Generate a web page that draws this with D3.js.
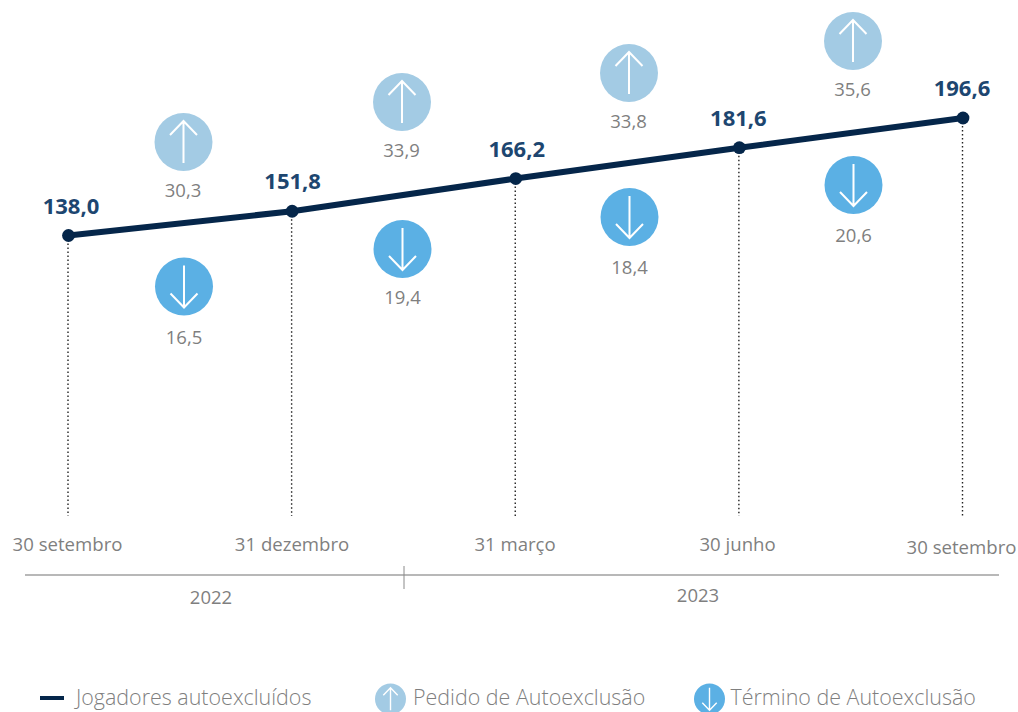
<!DOCTYPE html>
<html><head><meta charset="utf-8">
<script src="https://cdn.jsdelivr.net/npm/d3@7/dist/d3.min.js"></script>
<style>html,body{margin:0;background:#fff}svg{display:block}text{font-family:"Open Sans",sans-serif}</style>
</head><body><svg id="c" width="1018" height="712"></svg>
<script>
// Data
const dates = ["30 setembro","31 dezembro","31 março","30 junho","30 setembro "];
const totalLabels = ["138,0","151,8","166,2","181,6","196,6"];
const totalValues = [138.0,151.8,166.2,181.6,196.6];
// height of each point as drawn in the picture (the second one sits a little below its label value)
const drawnLevels = [138.0,150.1,166.4,181.8,196.6];
const pedidos = [30.3,33.9,33.8,35.6];
const terminos = [16.5,19.4,18.4,20.6];
const years = ["2022","2023"];
const legendLabels = ["Jogadores autoexcluídos","Pedido de Autoexclusão","Término de Autoexclusão"];

// Layout
const fmt = v => v.toFixed(1).replace(".",",");
const NAVY="#05264a", BLUE="#1d4670", GREY="#7f7f7f", LIGHT="#a3cbe4", MID="#5bb0e4";
const upPos = [[183.5,142],[402,102],[629,73],[853,41]];
const downPos = [[184,286.5],[402.5,249],[629.5,217],[853.5,185]];
const downLabelDy = [57,54.5,56.5,57];
const totalLabelDx = [2.5,0.5,1,-1,-1];
const svg = d3.select("#c");
const x = d3.scalePoint().domain(d3.range(dates.length)).range([68.5,963]);
const y = d3.scaleLinear().domain([138,196.6]).range([235.5,118]);

// dotted drop lines
svg.append("g").selectAll("line").data(drawnLevels).join("line")
  .attr("x1",(d,i)=>x(i)-.5).attr("x2",(d,i)=>x(i)-.5)
  .attr("y1",d=>y(d)).attr("y2",516)
  .attr("stroke","#222").attr("stroke-width",1.4).attr("stroke-dasharray","1.5 2.5");

// main line
svg.append("path").datum(drawnLevels)
  .attr("d",d3.line().x((d,i)=>x(i)).y(d=>y(d)))
  .attr("fill","none").attr("stroke",NAVY).attr("stroke-width",6);
svg.append("g").selectAll("circle").data(drawnLevels).join("circle")
  .attr("cx",(d,i)=>x(i)).attr("cy",d=>y(d)).attr("r",6.4).attr("fill",NAVY);
svg.append("g").selectAll("text").data(totalLabels).join("text")
  .attr("x",(d,i)=>x(i)+totalLabelDx[i]).attr("y",(d,i)=>y(drawnLevels[i])-22)
  .attr("text-anchor","middle").attr("font-size",22).attr("font-weight",700)
  .attr("fill",BLUE).text(d=>d);

function arrow(g,r,dir){
  const k=r/29, s=dir;
  g.append("path")
   .attr("d",`M0,${-21*s*k}L0,${21*s*k}M${-13.5*k},${7*s*k}L0,${21*s*k}L${13.5*k},${7*s*k}`)
   .attr("fill","none").attr("stroke","#fff").attr("stroke-width",r>20?2:1.4);
}
function bubble(sel,cx,cy,r,fill,dir){
  const g=sel.append("g").attr("transform",`translate(${cx},${cy})`);
  g.append("circle").attr("r",r).attr("fill",fill);
  arrow(g,r,dir);
}
pedidos.forEach((v,i)=>{
  const [cx,cy]=upPos[i];
  bubble(svg,cx,cy,29,LIGHT,-1);
  svg.append("text").attr("x",cx-.5).attr("y",cy+55).attr("text-anchor","middle")
    .attr("font-size",18.5).attr("fill",GREY).text(fmt(v));
});
terminos.forEach((v,i)=>{
  const [cx,cy]=downPos[i];
  bubble(svg,cx,cy,29,MID,1);
  svg.append("text").attr("x",cx).attr("y",cy+downLabelDy[i]).attr("text-anchor","middle")
    .attr("font-size",18.5).attr("fill",GREY).text(fmt(v));
});

// date tick labels
const axisG = svg.append("g").attr("transform","translate(0,545)")
  .call(d3.axisBottom(x).tickSize(0).tickFormat(i=>dates[i]));
axisG.select(".domain").remove();
axisG.selectAll("text").attr("font-size",18.6).attr("fill",GREY)
  .attr("font-family",'"Open Sans",sans-serif')
  .attr("dy",null).attr("y",6)
  .attr("transform",(d,i)=>`translate(${[-1.5,-.6,-1.2,-2.3,-2][i]},${i===4?3:0})`);

// year axis
svg.append("line").attr("x1",25).attr("x2",999).attr("y1",575).attr("y2",575).attr("stroke","#a0a0a0").attr("stroke-width",1.5);
svg.append("line").attr("x1",404).attr("x2",404).attr("y1",566).attr("y2",589).attr("stroke","#8a8a8a").attr("stroke-width",1);
svg.append("g").selectAll("text").data(years).join("text")
  .attr("x",(d,i)=>[211,698][i]).attr("y",(d,i)=>[603.5,601.5][i])
  .attr("text-anchor","middle").attr("font-size",18.5).attr("fill",GREY).text(d=>d);

// legend
svg.append("line").attr("x1",40).attr("x2",64).attr("y1",698).attr("y2",698).attr("stroke",NAVY).attr("stroke-width",4);
bubble(svg,390.5,699,15.5,LIGHT,-1);
bubble(svg,709.5,699,15.5,MID,1);
svg.append("g").selectAll("text").data(legendLabels).join("text")
  .attr("x",(d,i)=>[76,413,730.5][i]).attr("y",705)
  .attr("font-size",21.45).attr("font-weight",300).attr("fill",GREY).text(d=>d);
</script></body></html>
